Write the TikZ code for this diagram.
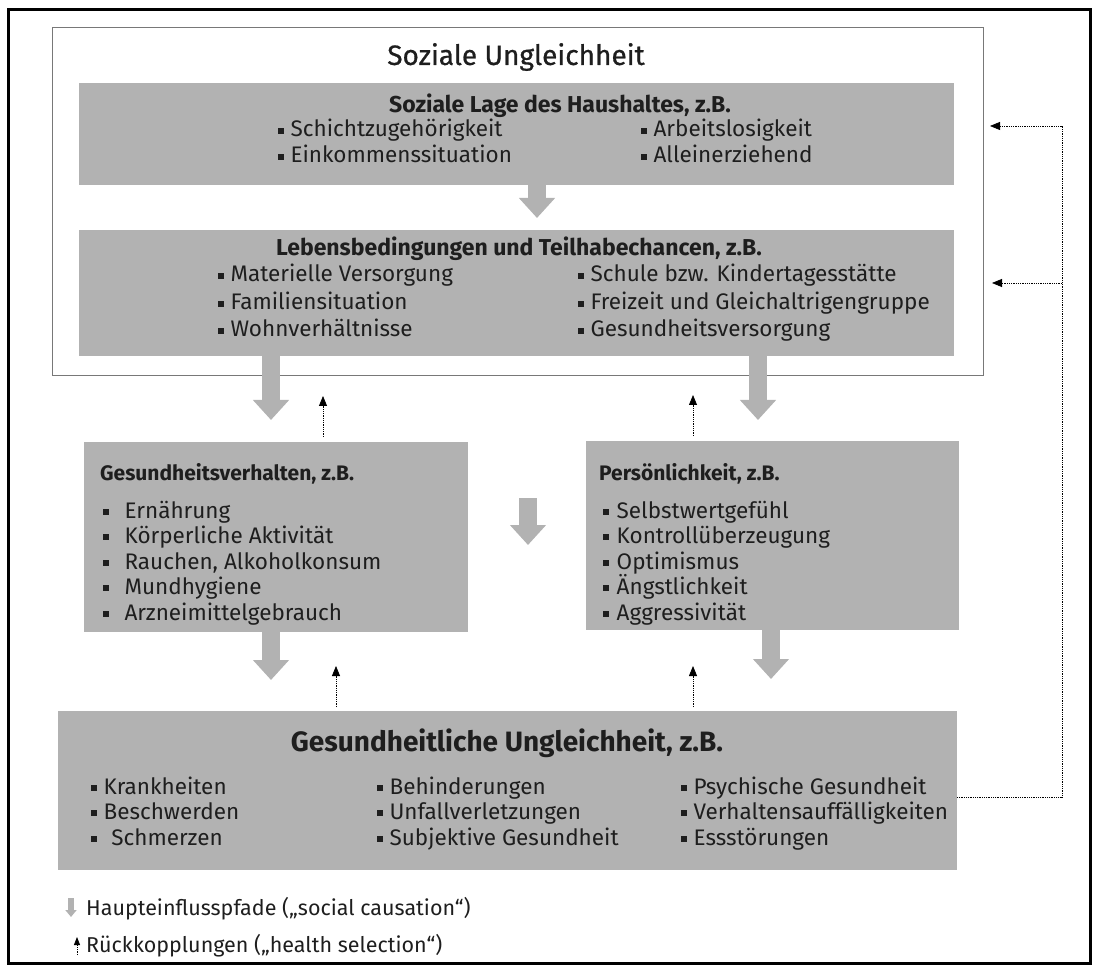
\documentclass[tikz,border=0pt]{standalone}
\usepackage{fontspec}
\setmainfont{Fira Sans}
\newfontfamily\medfont[FakeBold=0.7]{Fira Sans}
\usetikzlibrary{arrows.meta}
\definecolor{boxgray}{RGB}{178,178,178}
\definecolor{txt}{RGB}{30,30,30}
\definecolor{linegray}{RGB}{120,120,120}
\newcommand\bul[1][0.3em]{\rule[0.14em]{0.25em}{0.25em}\hspace{#1}}
\newcommand\fs[1]{\fontsize{#1}{#1}\selectfont}
\tikzset{
  graybox/.style={fill=boxgray, draw=none, inner sep=0pt, outer sep=0pt, anchor=north west},
  outerbox/.style={draw=linegray, line width=1pt, inner sep=0pt, outer sep=0pt, anchor=north west},
  itm/.style={anchor=base west, inner sep=0pt, text=txt, font=\fs{22.5}},
  hd/.style={anchor=base west, inner sep=0pt, text=txt, font=\fs{21}\bfseries},
  bigarrow/.style={draw=boxgray, line width=18pt, -{Triangle[width=35pt,length=20pt]}},
  fbarrow/.style={draw=black, line width=0.8pt, densely dotted, -{Triangle[width=8pt,length=10pt]}},
}
\begin{document}
\begin{tikzpicture}[x=1pt,y=-1pt]
\useasboundingbox (0,0) rectangle (1096,968);
\draw[line width=3pt] (8,10) rectangle (1090,963);

% outer box
\node[outerbox, minimum width=931pt, minimum height=348pt] (soz) at (52,28) {};
\node[text=txt, font=\fs{28}\medfont, inner sep=0pt] (sozt) at (516,57) {Soziale Ungleichheit};

% box 1
\node[graybox, minimum width=875pt, minimum height=102pt] (lage) at (79,83) {};
\node[hd, font=\fs{23}\bfseries, anchor=base] (lageh) at (560,113) {Soziale Lage des Haushaltes, z.B.};
\node[itm] (l1) at (278,137) {\bul Schichtzugehörigkeit};
\node[itm] (l2) at (278,163) {\bul Einkommenssituation};
\node[itm] (l3) at (641,137) {\bul Arbeitslosigkeit};
\node[itm] (l4) at (641,163) {\bul Alleinerziehend};

% box 2
\node[graybox, minimum width=875pt, minimum height=126pt] (leb) at (79,230) {};
\node[hd, font=\fs{23}\bfseries, anchor=base] (lebh) at (519,256) {Lebensbedingungen und Teilhabechancen, z.B.};
\node[itm] (b1) at (218,282) {\bul Materielle Versorgung};
\node[itm] (b2) at (218,310) {\bul Familiensituation};
\node[itm] (b3) at (218,337) {\bul Wohnverhältnisse};
\node[itm] (b4) at (578,282) {\bul Schule bzw. Kindertagesstätte};
\node[itm] (b5) at (578,310) {\bul Freizeit und Gleichaltrigengruppe};
\node[itm] (b6) at (578,337) {\bul Gesundheitsversorgung};

% middle left
\node[graybox, minimum width=384pt, minimum height=190pt] (gv) at (84,442) {};
\node[hd] (gvh) at (100,480) {Gesundheitsverhalten, z.B.};
\node[itm] (g1) at (103,518) {\bul[0.7em]Ernährung};
\node[itm] (g2) at (103,543) {\bul[0.7em]Körperliche Aktivität};
\node[itm] (g3) at (103,569) {\bul[0.7em]Rauchen, Alkoholkonsum};
\node[itm] (g4) at (103,594) {\bul[0.7em]Mundhygiene};
\node[itm] (g5) at (103,620) {\bul[0.7em]Arzneimittelgebrauch};

% middle right
\node[graybox, minimum width=373pt, minimum height=189pt] (pers) at (586,441) {};
\node[hd] (persh) at (599,480) {Persönlichkeit, z.B.};
\node[itm] (p1) at (603,518) {\bul[0.35em]Selbstwertgefühl};
\node[itm] (p2) at (603,543) {\bul[0.35em]Kontrollüberzeugung};
\node[itm] (p3) at (603,569) {\bul[0.35em]Optimismus};
\node[itm] (p4) at (603,594) {\bul[0.35em]Ängstlichkeit};
\node[itm] (p5) at (603,620) {\bul[0.35em]Aggressivität};

% bottom
\node[graybox, minimum width=899pt, minimum height=159pt] (gu) at (58,711) {};
\node[text=txt, font=\fs{28}\bfseries, anchor=base, inner sep=0pt] (guh) at (507,751) {Gesundheitliche Ungleichheit, z.B.};
\node[itm] (u1) at (91,794) {\bul Krankheiten};
\node[itm] (u2) at (91,819) {\bul Beschwerden};
\node[itm] (u3) at (91,845) {\bul[0.65em]Schmerzen};
\node[itm] (u4) at (377,794) {\bul Behinderungen};
\node[itm] (u5) at (377,819) {\bul Unfallverletzungen};
\node[itm] (u6) at (377,845) {\bul Subjektive Gesundheit};
\node[itm] (u7) at (681,794) {\bul Psychische Gesundheit};
\node[itm] (u8) at (681,819) {\bul Verhaltensauffälligkeiten};
\node[itm] (u9) at (681,845) {\bul Essstörungen};

% arrow positions
\coordinate (a0) at (537,0);
\coordinate (a1) at (271,0);
\coordinate (a2) at (758,0);
\coordinate (a4) at (271,0);
\coordinate (a5) at (771,0);
\coordinate (d1) at (323,0);
\coordinate (d2) at (693,0);
\coordinate (d3) at (336,0);
\coordinate (d4) at (693,0);
\coordinate (m1) at (528,498);
\coordinate (m2) at (528,545);

% main paths
\draw[bigarrow, shorten >=12pt] (lage.south -| a0) -- (leb.north -| a0);
\draw[bigarrow, shorten >=22pt] (leb.south -| a1) -- (gv.north -| a1);
\draw[bigarrow, shorten >=21pt] (leb.south -| a2) -- (pers.north -| a2);
\draw[bigarrow] (m1) -- (m2);
\draw[bigarrow, shorten >=31pt] (gv.south -| a4) -- (gu.north -| a4);
\draw[bigarrow, shorten >=32pt] (pers.south -| a5) -- (gu.north -| a5);

% feedback arrows
\draw[fbarrow, shorten <=5pt, shorten >=40pt] (gv.north -| d1) -- (leb.south -| d1);
\draw[fbarrow, shorten <=5pt, shorten >=39pt] (pers.north -| d2) -- (leb.south -| d2);
\draw[fbarrow, shorten <=4pt, shorten >=34pt] (gu.north -| d3) -- (gv.south -| d3);
\draw[fbarrow, shorten <=4pt, shorten >=36pt] (gu.north -| d4) -- (pers.south -| d4);

\coordinate (fbB) at (1062,797);
\coordinate (fbT) at (1062,126);
\coordinate (fbM) at (1062,283);
\coordinate (t1) at (990,126);
\coordinate (t2) at (992,283);
\draw[fbarrow] (gu.east |- fbB) -- (fbB) -- (fbT) -- (t1);
\draw[fbarrow] (fbM) -- (t2);

% legend
\coordinate (lg1) at (71,898);
\coordinate (lg2) at (71,917);
\draw[draw=boxgray, line width=6pt, -{Triangle[width=11pt,length=7pt]}] (lg1) -- (lg2);
\node[itm, font=\fs{21.5}] (lgt1) at (86,915) {Haupteinflusspfade („social causation“)};
\coordinate (lg3) at (77,955);
\coordinate (lg4) at (77,937);
\draw[fbarrow, -{Triangle[width=6pt,length=8pt]}] (lg3) -- (lg4);
\node[itm, font=\fs{21.5}] (lgt2) at (86,952) {Rückkopplungen („health selection“)};
\end{tikzpicture}
\end{document}
